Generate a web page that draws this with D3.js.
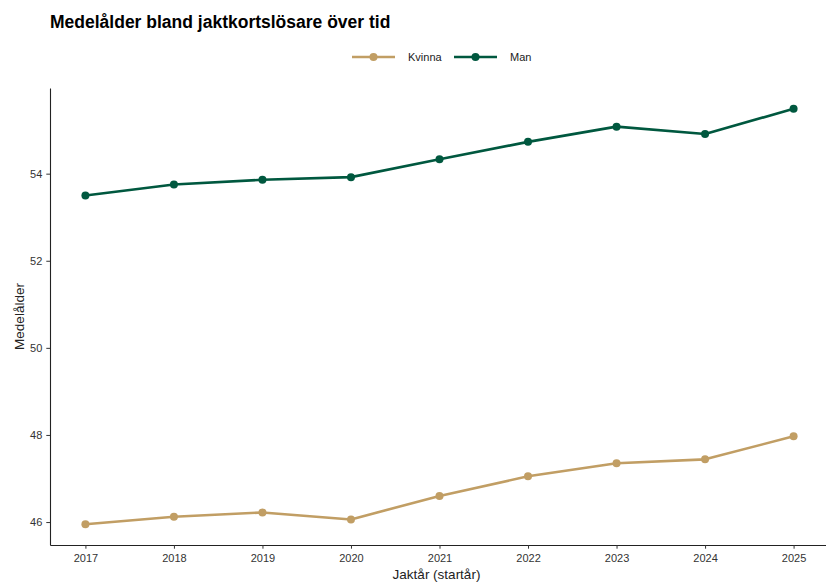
<!DOCTYPE html>
<html>
<head>
<meta charset="utf-8">
<script src="https://cdn.jsdelivr.net/npm/d3@7"></script>
<style>
  body { margin: 0; background: #fff; }
  text { font-family: "Liberation Sans", Arial, sans-serif; }
</style>
</head>
<body>
<div id="chart"></div>
<script>
const years = [2017, 2018, 2019, 2020, 2021, 2022, 2023, 2024, 2025];
const kvinna = [45.95, 46.12, 46.22, 46.06, 46.60, 47.05, 47.35, 47.44, 47.97];
const man = [53.50, 53.75, 53.86, 53.92, 54.33, 54.73, 55.08, 54.91, 55.49];
const yTicks = [46, 48, 50, 52, 54];
const seriesNames = ["Kvinna", "Man"];
const seriesColors = ["#c19e64", "#00583f"];

const W = 826, H = 583;
const margin = { top: 88, right: -3, bottom: 38, left: 50 },
      width = W - margin.left - margin.right,
      height = H - margin.top - margin.bottom;

const svg = d3.select("#chart")
    .append("svg")
    .attr("width", W)
    .attr("height", H);

const g = svg.append("g")
    .attr("transform", `translate(${margin.left},${margin.top})`);

// ggplot-style 5% expansion
const xPad = (d3.max(years) - d3.min(years)) * 0.05;
const x = d3.scaleLinear()
    .domain([d3.min(years) - xPad, d3.max(years) + xPad])
    .range([0, width]);

const allVals = kvinna.concat(man);
const yMin = d3.min(allVals), yMax = d3.max(allVals);
const yPad = (yMax - yMin) * 0.05;
const y = d3.scaleLinear()
    .domain([yMin - yPad, yMax + yPad])
    .range([height, 0]);

// Axes
const xAxis = g.append("g")
    .attr("transform", `translate(0,${height})`)
    .call(d3.axisBottom(x).tickValues(years).tickFormat(d3.format("d")).tickSize(3.7).tickSizeOuter(0).tickPadding(5));

const yAxis = g.append("g")
    .call(d3.axisLeft(y).tickValues(yTicks).tickSize(3.7).tickSizeOuter(0).tickPadding(4));

[xAxis, yAxis].forEach(a => {
    a.select(".domain").attr("stroke", "#222").attr("stroke-width", 1.1);
    a.selectAll(".tick line").attr("stroke", "#333").attr("stroke-width", 1);
    a.selectAll(".tick text")
        .attr("fill", "#333")
        .style("font-size", "11px")
        .style("font-family", "'Liberation Sans', Arial, sans-serif");
});

// Axis titles
svg.append("text")
    .attr("text-anchor", "middle")
    .attr("x", margin.left + width / 2 - 3)
    .attr("y", 579)
    .attr("fill", "#222")
    .style("font-size", "13.5px")
    .text("Jaktår (startår)");

svg.append("text")
    .attr("text-anchor", "middle")
    .attr("transform", "rotate(-90)")
    .attr("x", -(margin.top + height / 2))
    .attr("y", 24)
    .attr("fill", "#222")
    .style("font-size", "13.5px")
    .text("Medelålder");

// Title
svg.append("text")
    .attr("x", 50)
    .attr("y", 28)
    .attr("fill", "#000")
    .style("font-size", "17.5px")
    .style("font-weight", "bold")
    .text("Medelålder bland jaktkortslösare över tid");

// Lines and points
const series = [kvinna, man];
const line = d3.line()
    .x((d, i) => x(years[i]))
    .y(d => y(d));

series.forEach((vals, si) => {
    g.append("path")
        .datum(vals)
        .attr("fill", "none")
        .attr("stroke", seriesColors[si])
        .attr("stroke-width", 2.6)
        .attr("stroke-linejoin", "round")
        .attr("d", line);

    g.selectAll(".pt" + si)
        .data(vals)
        .enter()
        .append("circle")
        .attr("cx", (d, i) => x(years[i]))
        .attr("cy", d => y(d))
        .attr("r", 4)
        .attr("fill", seriesColors[si]);
});

// Legend
const legendX = [352, 454];
const legend = svg.append("g").attr("transform", "translate(0,57)");
seriesNames.forEach((name, i) => {
    const lg = legend.append("g").attr("transform", `translate(${legendX[i]},0)`);
    lg.append("line")
        .attr("x1", 0).attr("x2", 43)
        .attr("y1", 0).attr("y2", 0)
        .attr("stroke", seriesColors[i])
        .attr("stroke-width", 2.6);
    lg.append("circle")
        .attr("cx", 21.5).attr("cy", 0)
        .attr("r", 4)
        .attr("fill", seriesColors[i]);
    lg.append("text")
        .attr("x", 56)
        .attr("y", 4)
        .attr("fill", "#222")
        .style("font-size", "11px")
        .text(name);
});
</script>
</body>
</html>
